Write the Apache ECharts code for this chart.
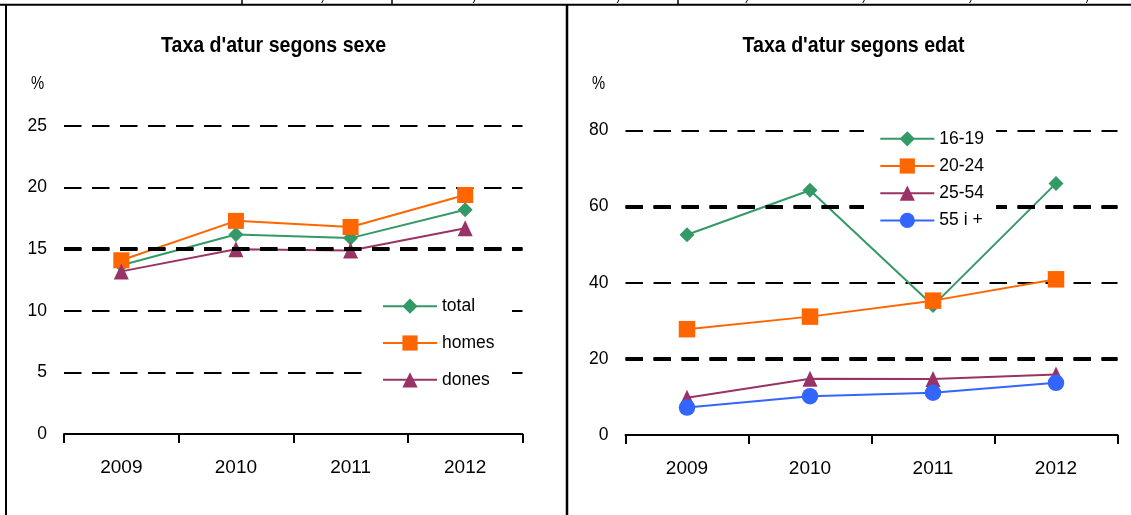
<!DOCTYPE html>
<html>
<head>
<meta charset="utf-8">
<script src="https://cdn.jsdelivr.net/npm/echarts@6/dist/echarts.min.js"></script>
<style>
html,body{margin:0;padding:0;background:#fff;}
#c{width:1131px;height:515px;}
</style>
</head>
<body>
<div id="c"></div>
<script>
// ---- data ----
const years = ['2009', '2010', '2011', '2012'];
const sexNames = ['total', 'homes', 'dones'];
const total = [13.7, 16.2, 15.9, 18.2];
const homes = [14.1, 17.3, 16.8, 19.4];
const dones = [13.2, 15.0, 14.9, 16.7];
const ageNames = ['16-19', '20-24', '25-54', '55 i +'];
const age1619 = [52.6, 64.3, 34.0, 66.1];
const age2024 = [27.8, 31.1, 35.3, 40.9];
const age2554 = [9.8, 14.8, 14.7, 15.9];
const age55 = [7.2, 10.2, 11.1, 13.7];
const leftTicks = [0, 5, 10, 15, 20, 25];
const rightTicks = [0, 20, 40, 60, 80];
const leftBold = [15];
const rightBold = [20, 60];
const titles = ["Taxa d'atur segons sexe", "Taxa d'atur segons edat"];

const FONT = "'Liberation Sans', Arial, sans-serif";
const GREEN = '#339966', ORANGE = '#FF6600', PURPLE = '#993366', BLUE = '#3366FF';
const DASH = [17.5, 10.5];

function xAxis(gi) {
  return {
    type: 'category', gridIndex: gi, data: years, boundaryGap: true,
    axisLine: {show: true, lineStyle: {color: '#000', width: 2}},
    axisTick: {show: true, length: 9, lineStyle: {color: '#000', width: 2}},
    axisLabel: {color: '#000', fontFamily: FONT, fontSize: 19, margin: 24.5},
    splitLine: {show: false}
  };
}
function yAxis(gi, ticks) {
  return {
    type: 'value', gridIndex: gi, min: ticks[0], max: ticks[ticks.length - 1],
    interval: ticks[1] - ticks[0],
    axisLine: {show: false}, axisTick: {show: false},
    axisLabel: {color: '#000', fontFamily: FONT, fontSize: 17.5, margin: 17},
    splitLine: {show: true, lineStyle: {color: '#000', width: 2, type: DASH}}
  };
}
function boldLines(vals) {
  return {
    silent: true, symbol: 'none', label: {show: false}, animation: false,
    lineStyle: {color: '#000', width: 4, type: DASH},
    emphasis: {disabled: true},
    data: vals.map(v => ({yAxis: v}))
  };
}
function line(name, data, color, symbol, size, gi, extra) {
  return Object.assign({
    type: 'line', name: name, data: data, xAxisIndex: gi, yAxisIndex: gi,
    symbol: symbol, symbolSize: size, showSymbol: true,
    lineStyle: {color: color, width: 2},
    itemStyle: {color: color, borderWidth: 0},
    emphasis: {disabled: true}, z: 3
  }, extra || {});
}

const legendText = {color: '#000', fontFamily: FONT, fontSize: 17.5, lineHeight: 20};

const borders = [
  {type: 'line', shape: {x1: 0, y1: 4.8, x2: 1131, y2: 4.8}, style: {stroke: '#000', lineWidth: 2}},
  {type: 'line', shape: {x1: 6, y1: 4, x2: 6, y2: 515}, style: {stroke: '#000', lineWidth: 2}},
  {type: 'line', shape: {x1: 567, y1: 4, x2: 567, y2: 515}, style: {stroke: '#000', lineWidth: 2.5}}
];
[242, 392, 678].forEach(x => borders.push({type: 'line', shape: {x1: x, y1: 0, x2: x, y2: 4}, style: {stroke: '#000', lineWidth: 1.5}}));
[322.5, 474, 618, 746.7, 863.6, 970.4, 1087].forEach(x => borders.push({type: 'line', shape: {x1: x + 0.8, y1: 0, x2: x - 0.8, y2: 3}, style: {stroke: '#000', lineWidth: 1}}));

function label(text, x, y, size, sx, bold) {
  return {type: 'text', x: x, y: y, scaleX: sx,
    style: {text: text, fontFamily: FONT, fontSize: size, fontWeight: bold ? 'bold' : 'normal', fill: '#000', align: 'center', verticalAlign: 'middle'}};
}
const texts = [
  label(titles[0], 273.6, 45.5, 22, 0.89, true),
  label(titles[1], 853.5, 45.5, 22, 0.89, true),
  label('%', 37.5, 84, 18.5, 0.8, false),
  label('%', 598.6, 84, 18.5, 0.8, false)
];

const option = {
  animation: false,
  backgroundColor: '#fff',
  grid: [
    {left: 64, right: 608.5, top: 126, bottom: 81, containLabel: false, outerBoundsMode: 'none'},
    {left: 625.5, right: 13.5, top: 130.5, bottom: 80, containLabel: false, outerBoundsMode: 'none'}
  ],
  xAxis: [xAxis(0), xAxis(1)],
  yAxis: [yAxis(0, leftTicks), yAxis(1, rightTicks)],
  legend: [
    {data: sexNames, orient: 'vertical', left: 363, top: 284.2, padding: [12, 14, 14, 19],
     itemWidth: 54, itemHeight: 19, itemGap: 16.8, backgroundColor: '#fff', borderWidth: 0,
     textStyle: legendText, selectedMode: false, z: 10},
    {data: ageNames, orient: 'vertical', left: 864, top: 124.8, padding: [4, 12, 5, 15.3],
     itemWidth: 54, itemHeight: 19, itemGap: 7.2, backgroundColor: '#fff', borderWidth: 0,
     textStyle: legendText, selectedMode: false, z: 10}
  ],
  series: [
    line(sexNames[0], total, GREEN, 'diamond', 15, 0, {markLine: boldLines(leftBold)}),
    line(sexNames[1], homes, ORANGE, 'rect', 16, 0),
    line(sexNames[2], dones, PURPLE, 'triangle', [15, 16], 0),
    line(ageNames[0], age1619, GREEN, 'diamond', 15, 1, {markLine: boldLines(rightBold)}),
    line(ageNames[1], age2024, ORANGE, 'rect', 16.5, 1),
    line(ageNames[2], age2554, PURPLE, 'triangle', [15, 16], 1),
    line(ageNames[3], age55, BLUE, 'circle', 16.5, 1)
  ],
  graphic: borders.concat(texts)
};

const chart = echarts.init(document.getElementById('c'), null, {renderer: 'canvas'});
chart.setOption(option);
</script>
</body>
</html>
